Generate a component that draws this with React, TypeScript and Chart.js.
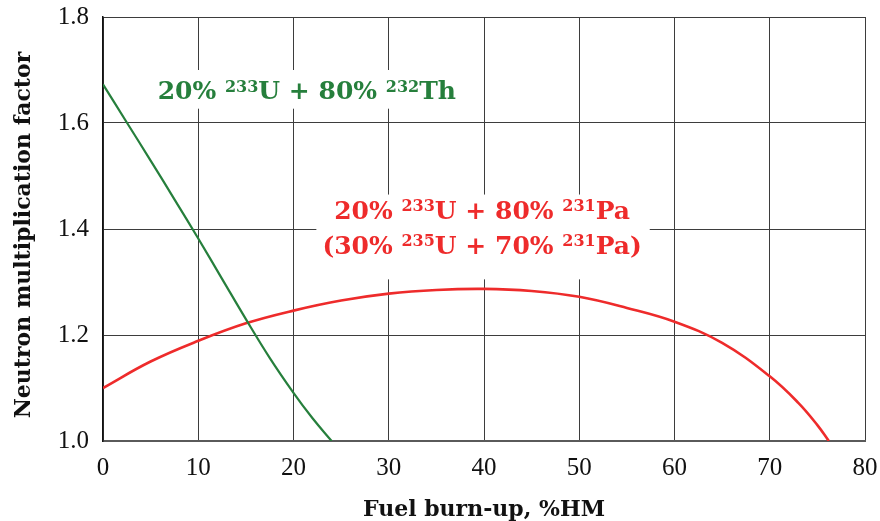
import React, { useEffect, useRef } from "react";
import { Chart, registerables } from "chart.js";

Chart.register(...registerables);

// Fuel burn-up (%HM) and neutron multiplication factor for 20% 233U + 80% 232Th
const burnupTh = [0, 2.5, 5, 7.5, 10, 12.5, 15, 17.5, 20, 22, 24];
const kTh = [1.673, 1.601, 1.529, 1.456, 1.382, 1.306, 1.23, 1.157, 1.091, 1.043, 1.0];

// Fuel burn-up (%HM) and neutron multiplication factor for 20% 233U + 80% 231Pa
const burnupPa = [0, 5, 10, 15, 20, 25, 30, 35, 40, 45, 50, 55, 60, 65, 70, 73, 75, 76.2];
const kPa = [1.1, 1.15, 1.189, 1.222, 1.246, 1.265, 1.278, 1.285, 1.287, 1.283, 1.272, 1.251, 1.225, 1.185, 1.122, 1.072, 1.03, 1.0];

const xTicks = [0, 10, 20, 30, 40, 50, 60, 70, 80];
const yTicks = [1.0, 1.2, 1.4, 1.6, 1.8];

const xTitle = "Fuel burn-up, %HM";
const yTitle = "Neutron multiplication factor";

type Seg = { t: string; sup?: boolean };
const labelTh: Seg[] = [
  { t: "20% " }, { t: "233", sup: true }, { t: "U + 80% " }, { t: "232", sup: true }, { t: "Th" },
];
const labelPa1: Seg[] = [
  { t: "20% " }, { t: "233", sup: true }, { t: "U + 80% " }, { t: "231", sup: true }, { t: "Pa" },
];
const labelPa2: Seg[] = [
  { t: "(30% " }, { t: "235", sup: true }, { t: "U + 70% " }, { t: "231", sup: true }, { t: "Pa)" },
];

const GREEN = "#267f3c";
const RED = "#ee2b2b";
const SERIF = "'Liberation Serif', 'DejaVu Serif', serif";
const WIDE_SERIF = "'DejaVu Serif', 'Liberation Serif', serif";

function drawRich(ctx: CanvasRenderingContext2D, segs: Seg[], cx: number, cy: number, size: number, color: string) {
  const main = `bold ${size}px ${WIDE_SERIF}`;
  const sub = `bold ${Math.round(size * 0.62)}px ${WIDE_SERIF}`;
  let total = 0;
  const widths = segs.map((s) => {
    ctx.font = s.sup ? sub : main;
    const w = ctx.measureText(s.t).width;
    total += w;
    return w;
  });
  let x = cx - total / 2;
  ctx.fillStyle = color;
  ctx.textAlign = "left";
  ctx.textBaseline = "alphabetic";
  const base = cy + size * 0.36;
  segs.forEach((s, i) => {
    ctx.font = s.sup ? sub : main;
    ctx.fillText(s.t, x, s.sup ? base - size * 0.3 : base);
    x += widths[i];
  });
}

const labelsPlugin = {
  id: "labelsPlugin",
  beforeDatasetsDraw(chart: any) {
    const { ctx, scales } = chart;
    const xs = scales.x;
    const ys = scales.y;
    ctx.save();
    ctx.fillStyle = "#ffffff";
    let x0 = xs.getPixelForValue(4.9), x1 = xs.getPixelForValue(37.7);
    let y0 = ys.getPixelForValue(1.7), y1 = ys.getPixelForValue(1.627);
    ctx.fillRect(x0, y0, x1 - x0, y1 - y0);
    x0 = xs.getPixelForValue(22.4); x1 = xs.getPixelForValue(57.4);
    y0 = ys.getPixelForValue(1.465); y1 = ys.getPixelForValue(1.305);
    ctx.fillRect(x0, y0, x1 - x0, y1 - y0);
    ctx.restore();
  },
  afterDatasetsDraw(chart: any) {
    const { ctx, scales, chartArea } = chart;
    const xs = scales.x;
    const ys = scales.y;
    ctx.save();
    drawRich(ctx, labelTh, xs.getPixelForValue(21.4), ys.getPixelForValue(1.662), 25, GREEN);
    drawRich(ctx, labelPa1, xs.getPixelForValue(39.8), ys.getPixelForValue(1.436), 25, RED);
    drawRich(ctx, labelPa2, xs.getPixelForValue(39.8), ys.getPixelForValue(1.37), 25, RED);
    // x axis title
    ctx.font = `bold 22px ${WIDE_SERIF}`;
    ctx.fillStyle = "#111";
    ctx.textAlign = "center";
    ctx.textBaseline = "alphabetic";
    ctx.fillText(xTitle, (chartArea.left + chartArea.right) / 2, 516);
    // y axis title
    ctx.translate(30, 235);
    ctx.rotate(-Math.PI / 2);
    ctx.fillText(yTitle, 0, 0);
    ctx.restore();
  },
};

export default function App() {
  const ref = useRef<HTMLCanvasElement | null>(null);
  useEffect(() => {
    document.body.style.margin = "0";
    const canvas = ref.current;
    if (!canvas) return;
    const chart = new Chart(canvas, {
      type: "line",
      data: {
        datasets: [
          {
            label: "Th",
            data: burnupTh.map((x, i) => ({ x, y: kTh[i] })),
            borderColor: GREEN,
            borderWidth: 2.2,
            pointRadius: 0,
            tension: 0.4,
            fill: false,
          },
          {
            label: "Pa",
            data: burnupPa.map((x, i) => ({ x, y: kPa[i] })),
            borderColor: RED,
            borderWidth: 2.6,
            pointRadius: 0,
            tension: 0.4,
            fill: false,
          },
        ],
      },
      options: {
        animation: false,
        responsive: true,
        maintainAspectRatio: false,
        layout: { padding: { top: 17, right: 15, left: 0, bottom: 0 } },
        plugins: { legend: { display: false }, tooltip: { enabled: false } },
        scales: {
          x: {
            type: "linear",
            min: 0,
            max: 80,
            afterBuildTicks: (s: any) => {
              s.ticks = xTicks.map((v) => ({ value: v }));
            },
            afterFit: (s: any) => {
              s.height = 80;
              s.paddingLeft = 0;
              s.paddingRight = 0;
            },
            grid: { color: "#3d3d3d", lineWidth: 1, drawTicks: false },
            border: { color: "#5a5a5a", width: 2 },
            ticks: {
              padding: 12,
              color: "#111",
              font: { family: SERIF, size: 25 },
              callback: (v: any) => String(v),
            },
          },
          y: {
            type: "linear",
            min: 1.0,
            max: 1.8,
            afterBuildTicks: (s: any) => {
              s.ticks = yTicks.map((v) => ({ value: v }));
            },
            afterFit: (s: any) => {
              s.width = 103;
              s.paddingTop = 0;
              s.paddingBottom = 0;
            },
            grid: { color: "#3d3d3d", lineWidth: 1, drawTicks: false },
            border: { color: "#111", width: 1.5 },
            ticks: {
              padding: 14,
              color: "#111",
              font: { family: SERIF, size: 25 },
              callback: (v: any) => Number(v).toFixed(1),
            },
          },
        },
      },
      plugins: [labelsPlugin],
    } as any);
    return () => chart.destroy();
  }, []);
  return (
    <div style={{ width: 880, height: 521, position: "relative" }}>
      <canvas ref={ref} />
    </div>
  );
}
